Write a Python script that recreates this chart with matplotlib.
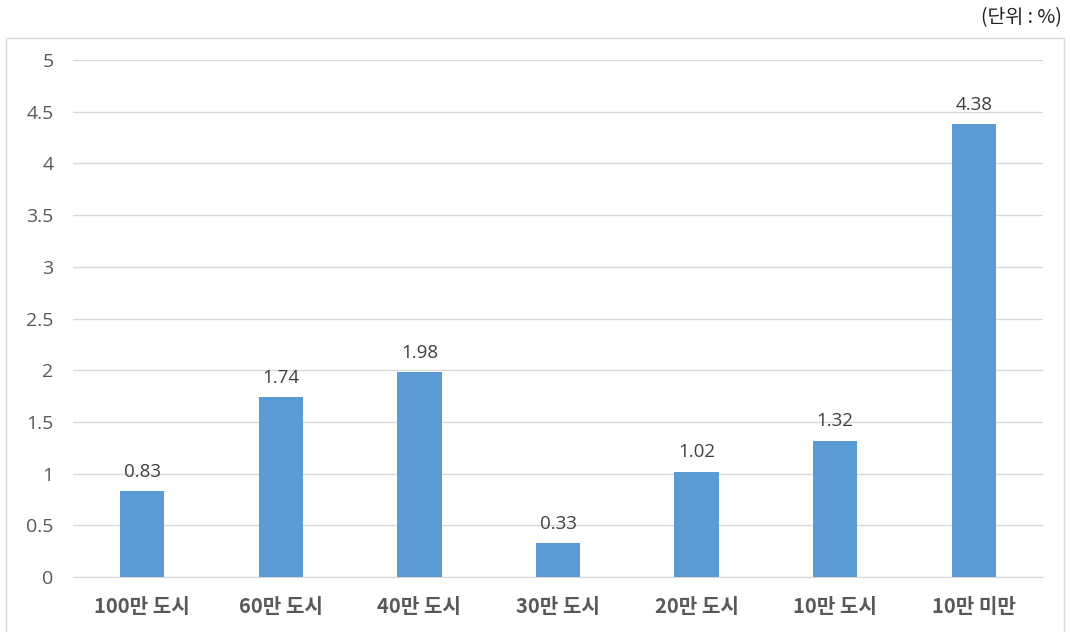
import matplotlib.pyplot as plt
from matplotlib.patches import Rectangle

plt.rcParams['font.family'] = ['Noto Sans CJK KR', 'DejaVu Sans']

categories = ['100만 도시', '60만 도시', '40만 도시', '30만 도시', '20만 도시', '10만 도시', '10만 미만']
values = [0.83, 1.74, 1.98, 0.33, 1.02, 1.32, 4.38]
yticks = [0, 0.5, 1, 1.5, 2, 2.5, 3, 3.5, 4, 4.5, 5]
ytick_labels = ['0', '0.5', '1', '1.5', '2', '2.5', '3', '3.5', '4', '4.5', '5']

fig = plt.figure(figsize=(10.7, 6.32), dpi=100)
ax = fig.add_axes([0.0682, 0.087, 0.9066, 0.818])

# chart frame
fig.patches.append(Rectangle((6/1070, -0.01), 1058/1070, 0.95, transform=fig.transFigure,
                             fill=False, edgecolor='#d9d9d9', linewidth=1.0))

x = range(len(categories))
ax.bar(x, values, width=0.32, color='#5b9bd5', zorder=3)
for i, v in zip(x, values):
    ax.text(i, v + 0.1, '%.2f' % v, ha='center', va='bottom', fontsize=13.5,
            color='#404040', family=['Open Sans', 'DejaVu Sans'])

ax.set_xlim(-0.5, len(categories) - 0.5)
ax.set_ylim(0, 5)
ax.set_yticks(yticks)
ax.set_yticklabels(ytick_labels, fontsize=14, color='#595959', family=['Open Sans', 'DejaVu Sans'])
ax.set_xticks(list(x))
ax.set_xticklabels(categories, fontsize=14.5, color='#595959', fontweight='bold')
ax.tick_params(axis='both', length=0)
ax.tick_params(axis='y', pad=14)
ax.tick_params(axis='x', pad=14)
ax.grid(axis='y', color='#d9d9d9', linewidth=1.0, zorder=0)
for s in ['top', 'right', 'left']:
    ax.spines[s].set_visible(False)
ax.spines['bottom'].set_color('#d9d9d9')

fig.text(1062/1070, 1 - 18/632, '(단위 : %)', ha='right', va='center', fontsize=14, color='#222222')

fig.savefig('out.png', dpi=100)
